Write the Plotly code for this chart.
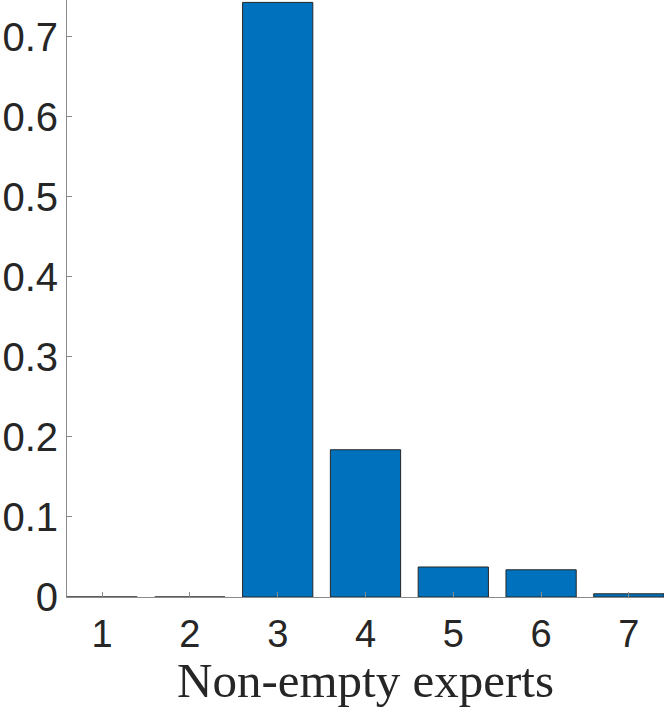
import plotly.graph_objects as go

categories = [1, 2, 3, 4, 5, 6, 7]
values = [0.0, 0.0, 0.743, 0.184, 0.0375, 0.034, 0.004]
y_ticks = [0, 0.1, 0.2, 0.3, 0.4, 0.5, 0.6, 0.7]
y_tick_labels = ["0", "0.1", "0.2", "0.3", "0.4", "0.5", "0.6", "0.7"]

fig = go.Figure()
fig.add_trace(go.Bar(
    x=categories, y=values, width=0.8,
    marker=dict(color="#0072BD", line=dict(color="#262626", width=1)),
))

axis_color = "#8a8a8a"
fig.update_layout(
    width=664, height=708,
    margin=dict(l=67, r=0, t=0, b=111),
    plot_bgcolor="white", paper_bgcolor="white",
    showlegend=False,
    font=dict(family="Liberation Sans, Arial, sans-serif", size=40, color="#262626"),
)
fig.update_xaxes(
    range=[0.6, 7.4], tickmode="array", tickvals=categories,
    ticktext=[str(c) for c in categories],
    showline=True, linecolor=axis_color, linewidth=1,
    ticks="inside", ticklen=5, tickcolor=axis_color,
    showgrid=False, zeroline=False,
    tickfont=dict(size=38, color="#262626"),
    ticklabelstandoff=3,
    title=dict(text="Non-empty experts",
               font=dict(family="Liberation Serif, Times New Roman, serif", size=49, color="#262626"),
               standoff=14),
)
fig.update_yaxes(
    range=[0, 0.746], tickmode="array", tickvals=y_ticks, ticktext=y_tick_labels,
    showline=True, linecolor=axis_color, linewidth=1,
    ticks="inside", ticklen=5, tickcolor=axis_color,
    showgrid=False, zeroline=False,
    tickfont=dict(size=40, color="#262626"),
)

fig.write_html(
    "out.html",
    config={"displayModeBar": False},
    post_script="document.body.style.margin='0';document.body.style.overflow='hidden';",
)
